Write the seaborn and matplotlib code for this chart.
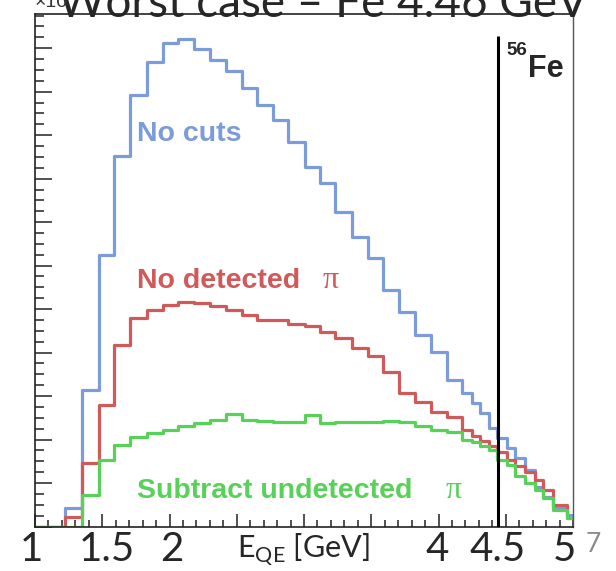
import numpy as np
import pandas as pd
import matplotlib
matplotlib.use("Agg")
import matplotlib.pyplot as plt
import matplotlib.transforms as mtransforms
from matplotlib.ticker import MultipleLocator
import seaborn as sns

# ---------------- data ----------------
bin_edges = [1.000, 1.223, 1.349, 1.478, 1.587, 1.706, 1.830, 1.949, 2.063, 2.182,
             2.301, 2.420, 2.537, 2.648, 2.772, 2.883, 3.007, 3.119, 3.230, 3.355,
             3.473, 3.591, 3.709, 3.828, 3.946, 4.063, 4.175, 4.249, 4.309, 4.372,
             4.435, 4.509, 4.569, 4.643, 4.717, 4.777, 4.851, 4.953, 5.000]

no_cuts = [0.00, 0.43, 3.13, 6.24, 8.52, 9.92, 10.69, 11.11, 11.21, 10.99,
           10.74, 10.48, 10.08, 9.69, 9.34, 8.85, 8.27, 7.89, 7.24, 6.66,
           6.17, 5.44, 4.93, 4.40, 4.01, 3.37, 3.07, 2.84, 2.61, 2.26,
           2.03, 1.80, 1.57, 1.30, 0.91, 0.68, 0.43, 0.26]

no_detected_pi = [0.00, 0.22, 1.46, 2.79, 4.17, 4.79, 4.98, 5.09, 5.16, 5.14,
                  5.07, 4.98, 4.86, 4.75, 4.75, 4.66, 4.61, 4.47, 4.33, 4.10,
                  3.92, 3.55, 3.07, 2.86, 2.63, 2.52, 2.22, 2.08, 1.97, 1.85,
                  1.71, 1.53, 1.39, 1.25, 1.07, 0.84, 0.49, 0.20]

subtract_undetected_pi = [0.00, 0.00, 0.72, 1.53, 1.87, 2.06, 2.15, 2.22, 2.31, 2.38,
                          2.45, 2.59, 2.45, 2.43, 2.40, 2.40, 2.56, 2.38, 2.40, 2.40,
                          2.40, 2.43, 2.40, 2.31, 2.22, 2.17, 1.99, 1.94, 1.85, 1.76,
                          1.53, 1.41, 1.16, 1.00, 0.84, 0.66, 0.38, 0.20]

series_labels = ["No cuts", "No detected", "Subtract undetected"]
series_colors = ["#7b9cd9", "#d05a5a", "#58d158"]

beam_line_energy = 4.44
beam_line_top = 11.27

tick_values = [1.0, 1.5, 2.0, 4.0, 4.5, 5.0]
tick_labels = ["1", "1.5", "2", "4", "4.5", "5"]
tick_label_pos = [0.975, 1.535, 2.02, 3.99, 4.44, 4.935]

title_text = "Worst case – Fe 4.46 GeV"

# ---------------- figure ----------------
sns.set_theme(style="ticks")
plt.rcParams['font.family'] = ['Liberation Sans', 'DejaVu Sans']

W, H = 616, 571
fig = plt.figure(figsize=(W / 100, H / 100), dpi=100)
fig.patch.set_facecolor("white")
ax = fig.add_axes([35 / W, 1 - 526.5 / H, (573 - 35) / W, (526.5 - 14.3) / H])
ax.set_facecolor("white")

edges = np.array(bin_edges)
centers = 0.5 * (edges[:-1] + edges[1:])
df = pd.DataFrame({
    "E": np.tile(centers, 3),
    "w": np.concatenate([no_cuts, no_detected_pi, subtract_undetected_pi]),
    "series": np.repeat(series_labels, len(centers)),
})

for name, col in zip(series_labels, series_colors):
    sub = df[df["series"] == name]
    sns.histplot(data=sub, x="E", weights="w", bins=bin_edges, element="step",
                 fill=False, color=col, linewidth=2.3, ax=ax)

ax.vlines(beam_line_energy, 0, beam_line_top, color="black", linewidth=2.2, zorder=5)

ax.set_xlim(1.0, 5.0)
ax.set_ylim(0, 11.78)
ax.set_xlabel("")
ax.set_ylabel("")

ax.xaxis.set_major_locator(MultipleLocator(0.5))
ax.xaxis.set_minor_locator(MultipleLocator(0.1))
ax.yaxis.set_major_locator(MultipleLocator(1.0))
ax.yaxis.set_minor_locator(MultipleLocator(0.25))
ax.tick_params(axis="both", which="both", direction="in", top=False, right=False,
               labelleft=False, labelbottom=False, color="#222222", width=1.1)
ax.tick_params(axis="y", which="major", length=12)
ax.tick_params(axis="y", which="minor", length=6.5)
ax.tick_params(axis="x", which="major", length=9.5)
ax.tick_params(axis="x", which="minor", length=5)
for side in ["left", "bottom", "top"]:
    ax.spines[side].set_visible(True)
    ax.spines[side].set_color("#222222")
    ax.spines[side].set_linewidth(1.2)
ax.spines["right"].set_visible(True)
ax.spines["right"].set_color("#555555")
ax.spines["right"].set_linewidth(1.0)

# in-plot labels
ax.text(1.758, 8.87, "No cuts", color=series_colors[0], fontsize=20.5,
        fontweight="bold", va="baseline", ha="left")
ax.text(1.758, 5.476, "No detected", color=series_colors[1], fontsize=20.5,
        fontweight="bold", va="baseline", ha="left")
ax.text(3.135, 5.476, "π", color=series_colors[1], fontsize=23,
        family="Liberation Serif", va="baseline", ha="left")
ax.text(1.758, 0.655, "Subtract undetected", color=series_colors[2], fontsize=20.5,
        fontweight="bold", va="baseline", ha="left")
ax.text(4.055, 0.655, "π", color=series_colors[2], fontsize=23,
        family="Liberation Serif", va="baseline", ha="left")

ax.text(4.505, 10.84, "56", fontsize=13.5, fontweight="bold", va="baseline", ha="left")
ax.text(4.665, 10.33, "Fe", fontsize=22, fontweight="bold", va="baseline", ha="left")

# slide-style axis labels
trans = mtransforms.blended_transform_factory(ax.transData, fig.transFigure)
for pos, lab in zip(tick_label_pos, tick_labels):
    ax.text(pos, 1 - 561 / H, lab, transform=trans, fontsize=29, family="Lato",
            ha="center", va="baseline", clip_on=False)
ax.text(1 + (237 - 35) / 134.5, 1 - 557 / H,
        r"E$_{\mathregular{QE}}$ [GeV]", transform=trans, fontsize=22, family="Lato",
        ha="left", va="baseline", clip_on=False)
fig.text(586 / W, 1 - 552 / H, "7", fontsize=19, color="#8c8c8c", family="Lato",
         ha="left", va="baseline")

# clipped title and exponent at top
fig.text(58 / W, 1 - 17 / H, title_text, fontsize=33, family="Lato",
         ha="left", va="baseline")
fig.text(35 / W, 1 - 7 / H, "×10", fontsize=14, color="#333333",
         ha="left", va="baseline")

fig.savefig("out.png", dpi=100, facecolor="white")
